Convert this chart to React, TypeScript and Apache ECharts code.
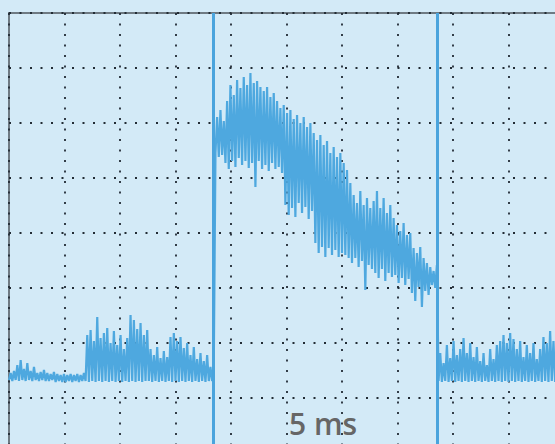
import React, { useEffect, useRef } from "react";
import * as echarts from "echarts";

// time base: one sample every 0.3 ms, starting at 0 ms (5 ms per division)
const SAMPLE_START_MS = 0;
const SAMPLE_STEP_MS = 0.3;

// peak-detect envelope of the trace (ADC counts, 55 counts per division)
const peakHigh = [
  80, 82, 88, 93, 84, 90, 82, 86, 80, 81, 83, 80, 79, 81, 79, 78, 79, 78, 79, 78, 79, 78, 80,
  118, 123, 112, 136, 115, 120, 125, 110, 122, 108, 118, 104, 115, 138, 133, 124, 130, 118, 123, 104, 98,
  106, 95, 102, 96, 116, 120, 112, 116, 105, 110, 98, 106, 94, 100, 92, 98, 86, 90,
  336, 343, 332, 352, 368, 358, 373, 365, 376, 368, 380, 370, 372, 366, 362, 366, 356, 360, 352, 345, 348,
  340, 343, 334, 338, 330, 336, 326, 330, 320,
  313, 318, 308, 312, 300, 306, 296, 300, 290, 283,
  270, 258, 250, 262, 248, 255, 245, 252, 262, 245, 255, 240, 248, 235, 228, 222, 230, 218, 220, 205,
  200, 206, 195, 190, 186, 182, 188,
  100, 90, 108, 95, 112, 98, 104, 115, 100, 110, 96, 106, 92, 100, 88, 104, 94, 108, 112, 118,
  110, 120, 114, 104, 112, 96, 108, 100, 110, 94, 104, 116, 110, 122, 112, 118,
];
const peakLow = [
  73, 72, 73, 72, 73, 72, 73, 72, 73, 72, 73, 72, 72, 73, 71, 72, 71, 71, 72, 71, 72, 71, 72,
  72, 71, 72, 71, 72, 71, 72, 71, 72, 71, 72, 71, 72, 71, 72, 71, 72, 71, 72, 72,
  71, 72, 71, 72, 71, 72, 71, 72, 71, 72, 71, 72, 71, 72, 71, 72, 71, 72, 72,
  300, 296, 298, 290, 284, 292, 286, 295, 288, 292, 285, 290, 266, 292, 284, 288, 282, 290, 284, 286, 280,
  248, 238, 245, 236, 250, 240, 246, 234, 242,
  210, 200, 206, 196, 205, 198, 203, 196, 200, 198,
  195, 190, 195, 186, 192, 163, 188, 184, 180, 175, 184, 172, 180, 176, 178, 170, 175, 168, 174, 160,
  152, 166, 146, 162, 158, 168, 165,
  72, 71, 72, 71, 72, 71, 72, 71, 72, 71, 72, 71, 72, 71, 72, 71, 72, 71, 72, 71,
  72, 71, 72, 71, 72, 71, 72, 71, 72, 71, 72, 71, 72, 71, 72, 71,
];

// cursor positions (ms)
const cursorTimes = [18.4, 38.55];

// axis ticks: 10 horizontal, 8 vertical divisions
const X_MIN = 0, X_MAX = 50, X_DIV = 5;
const Y_MIN = 0, Y_MAX = 440, Y_DIV = 55;

const timebaseLabel = "5 ms";

export default function App() {
  const ref = useRef<HTMLDivElement>(null);
  useEffect(() => {
    if (!ref.current) return;
    const chart = echarts.init(ref.current, undefined, { renderer: "svg" });
    const trace: number[][] = [];
    for (let i = 0; i < peakHigh.length; i++) {
      const t = SAMPLE_START_MS + i * SAMPLE_STEP_MS;
      trace.push([t, peakLow[i]]);
      trace.push([t + SAMPLE_STEP_MS / 2, peakHigh[i]]);
    }
    const gridLine = {
      show: true,
      lineStyle: { color: "#222c35", width: 1.8, type: [2, 8.5] as any },
    };
    chart.setOption({
      animation: false,
      backgroundColor: "#d3eaf7",
      grid: {
        left: 9,
        top: 13,
        right: 0,
        bottom: 0,
        show: true,
        borderColor: "#6e7a83",
        borderWidth: 2,
        backgroundColor: "transparent",
      },
      xAxis: {
        type: "value",
        min: X_MIN,
        max: X_MAX,
        interval: X_DIV,
        axisLine: { show: false },
        axisTick: { show: false },
        axisLabel: { show: false },
        splitLine: gridLine,
      },
      yAxis: {
        type: "value",
        min: Y_MIN,
        max: Y_MAX,
        interval: Y_DIV,
        axisLine: { show: false },
        axisTick: { show: false },
        axisLabel: { show: false },
        splitLine: gridLine,
      },
      series: [
        {
          type: "line",
          data: trace,
          showSymbol: false,
          symbol: "none",
          silent: true,
          lineStyle: { color: "#4ea8df", width: 2.2, join: "bevel" },
          markLine: {
            silent: true,
            symbol: ["none", "none"],
            label: { show: false },
            lineStyle: { color: "#4aa4dd", width: 3, type: "solid" },
            data: cursorTimes.map((t) => ({ xAxis: t })),
          },
        },
      ],
      graphic: [
        {
          type: "text",
          left: 289,
          top: 408,
          style: {
            text: timebaseLabel,
            fontSize: 30,
            fontWeight: 600,
            fontFamily: "Open Sans",
            fill: "#666666",
          },
        },
      ],
    });
    return () => chart.dispose();
  }, []);
  return (
    <div
      style={{
        position: "fixed",
        left: 0,
        top: 0,
        width: 555,
        height: 444,
        overflow: "hidden",
        background: "#d3eaf7",
      }}
    >
      <div ref={ref} style={{ width: 564, height: 453 }} />
    </div>
  );
}
